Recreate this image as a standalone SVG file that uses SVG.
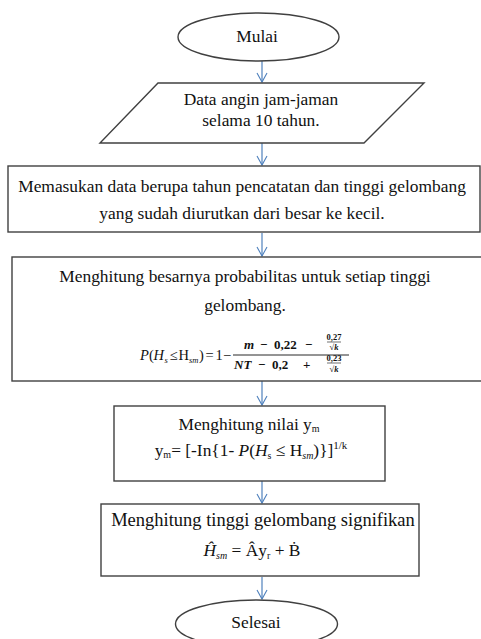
<svg xmlns="http://www.w3.org/2000/svg" width="481" height="639" viewBox="0 0 481 639">
<defs>
<marker id="ah" markerWidth="12" markerHeight="12" refX="10" refY="6" orient="auto" markerUnits="userSpaceOnUse">
<path d="M1,1 L10,6 L1,11" fill="none" stroke="#4f81bd" stroke-width="1.1"/>
</marker>
</defs>
<style>
.shape{fill:#fff;stroke:#404040;stroke-width:1.4}
.t{font-family:"Liberation Serif","Times New Roman",serif;font-size:17.4px;fill:#111;text-anchor:middle}
.f{font-family:"Liberation Serif","Times New Roman",serif;fill:#111;font-size:14.5px}
.sub{font-size:8.5px}
.m{font-family:"Liberation Serif","Times New Roman",serif;fill:#111;font-weight:bold;font-size:13px}
.s{font-family:"Liberation Serif","Times New Roman",serif;fill:#111;font-weight:bold;font-size:8.5px;text-anchor:middle}
.i{font-style:italic}
.c{stroke:#4f81bd;stroke-width:1.2;fill:none}
.bar{stroke:#111;stroke-width:0.9}
.sbar{stroke:#111;stroke-width:0.6}
</style>
<rect width="481" height="639" fill="#fff"/>
<g id="connectors">
<line class="c" x1="262" y1="61" x2="262" y2="82" marker-end="url(#ah)"/>
<line class="c" x1="262" y1="143" x2="262" y2="165" marker-end="url(#ah)"/>
<line class="c" x1="262" y1="233" x2="262" y2="256" marker-end="url(#ah)"/>
<line class="c" x1="262" y1="381" x2="262" y2="405" marker-end="url(#ah)"/>
<line class="c" x1="262" y1="481" x2="262" y2="503" marker-end="url(#ah)"/>
<line class="c" x1="262" y1="577" x2="262" y2="599" marker-end="url(#ah)"/>
</g>
<g id="mulai">
<ellipse class="shape" cx="258.5" cy="37" rx="80.5" ry="24"/>
<text class="t" x="257" y="42">Mulai</text>
</g>
<g id="input">
<polygon class="shape" points="158,83 424,83 364,143 100,143"/>
<text class="t" x="261" y="105">Data angin jam-jaman</text>
<text class="t" x="261" y="126">selama 10 tahun.</text>
</g>
<g id="masukan">
<rect class="shape" x="8" y="166" width="472" height="66"/>
<text class="t" x="242" y="192">Memasukan data berupa tahun pencatatan dan tinggi gelombang</text>
<text class="t" x="242" y="219">yang sudah diurutkan dari besar ke kecil.</text>
</g>
<g id="probabilitas">
<rect class="shape" x="12" y="257" width="472" height="124"/>
<text class="t" x="245" y="282">Menghitung besarnya probabilitas untuk setiap tinggi</text>
<text class="t" x="245" y="311">gelombang.</text>
<text class="f" y="360"><tspan class="i" x="140">P</tspan><tspan x="149">(</tspan><tspan class="i" x="153.5">H</tspan><tspan x="170">≤</tspan><tspan x="178.5">H</tspan><tspan x="199">)</tspan><tspan x="205.5">=</tspan><tspan x="215.5">1</tspan><tspan x="223">−</tspan></text>
<text class="f sub i" x="164.5" y="363">s</text>
<text class="f sub i" x="189" y="363">sm</text>
<line class="bar" x1="233" y1="355" x2="349" y2="355"/>
<text class="m" y="349"><tspan class="i" x="244">m</tspan><tspan x="260">−</tspan><tspan x="274">0,22</tspan><tspan x="305">−</tspan></text>
<line class="sbar" x1="327" y1="342" x2="341" y2="342"/>
<text class="s" x="334" y="340">0,27</text>
<text class="s" x="334" y="350">√<tspan class="i">k</tspan></text>
<text class="m" y="369"><tspan class="i" x="234">NT</tspan><tspan x="258">−</tspan><tspan x="272">0,2</tspan><tspan x="303">+</tspan></text>
<line class="sbar" x1="327" y1="363" x2="341" y2="363"/>
<text class="s" x="334" y="361">0,23</text>
<text class="s" x="334" y="372">√<tspan class="i">k</tspan></text>
</g>
<g id="nilai-ym">
<rect class="shape" x="114" y="406" width="271" height="75"/>
<text class="t" x="249" y="430">Menghitung nilai y<tspan font-size="10" dy="2">m</tspan></text>
<text class="t" x="251" y="456">y<tspan font-size="10" dy="2">m</tspan><tspan dy="-2">= [-In{1- </tspan><tspan class="i">P</tspan>(<tspan class="i">H</tspan><tspan font-size="10" dy="3">s</tspan><tspan dy="-3"> ≤ H</tspan><tspan class="i" font-size="10" dy="3">sm</tspan><tspan dy="-3">)}]</tspan><tspan font-size="11" dy="-7">1/k</tspan></text>
</g>
<g id="signifikan">
<rect class="shape" x="101" y="504" width="318" height="72"/>
<text class="t" x="263" y="526" style="font-size:18.5px">Menghitung tinggi gelombang signifikan</text>
<text class="t" x="252" y="556"><tspan class="i">Ĥ</tspan><tspan class="i" font-size="10" dy="3">sm</tspan><tspan dy="-3"> = Ây</tspan><tspan font-size="10" dy="3">r</tspan><tspan dy="-3"> + Ḃ</tspan></text>
</g>
<g id="selesai">
<ellipse class="shape" cx="256.5" cy="624" rx="81" ry="24"/>
<text class="t" x="256" y="628">Selesai</text>
</g>
</svg>
